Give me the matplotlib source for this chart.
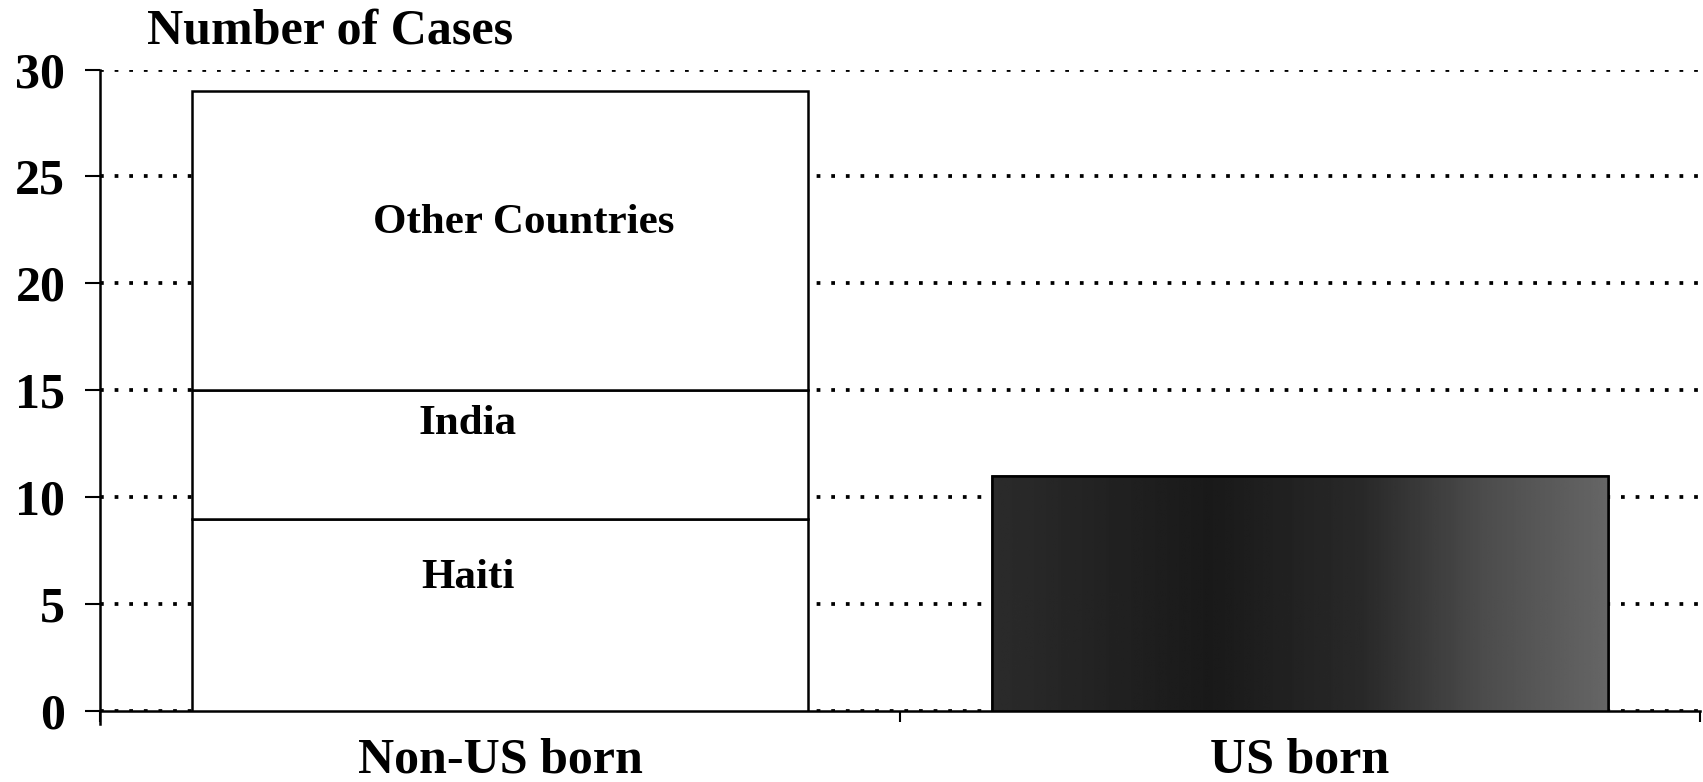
import matplotlib
matplotlib.use("Agg")
import matplotlib.pyplot as plt
import numpy as np

# Data
categories = ["Non-US born", "US born"]
segment_names = ["Haiti", "India", "Other Countries"]
non_us_segments = [9, 6, 14]
us_born_total = 11
y_ticks = [0, 5, 10, 15, 20, 25, 30]

plt.rcParams['font.family'] = ['Liberation Serif', 'DejaVu Serif']
plt.rcParams['font.weight'] = 'bold'

fig = plt.figure(figsize=(17.03, 7.82), dpi=100)
ax = fig.add_axes([100 / 1703, 1 - 711 / 782, 1600 / 1703, (711 - 69.5) / 782])

bar_w = 0.77
# stacked bar for non-US born
bottom = 0
seg_bottoms = []
for val in non_us_segments:
    ax.bar(0, val, bottom=bottom, width=bar_w, color='white', edgecolor='black',
           linewidth=1.8, zorder=3)
    seg_bottoms.append(bottom)
    bottom += val

# US born bar, dark grey shading (lighter towards the right edge like the scan)
us_bar = ax.bar(1, us_born_total, width=bar_w, color='#2a2a2a', edgecolor='black',
                linewidth=1.8, zorder=3)[0]
xs = np.linspace(0, 1, 256)
shade = np.interp(xs, [0, 0.35, 0.6, 0.8, 1], [0.17, 0.1, 0.16, 0.3, 0.4]).reshape(1, -1)
img = ax.imshow(shade, cmap='gray', vmin=0, vmax=1, aspect='auto', zorder=3.5,
                extent=[1 - bar_w / 2, 1 + bar_w / 2, 0, us_born_total])
img.set_clip_path(us_bar)
ax.bar(1, us_born_total, width=bar_w, color='none', edgecolor='black',
       linewidth=1.8, zorder=4)

# segment labels (position inside each segment as fraction of its height)
label_frac = [0.69, 0.74, 0.56]
label_dx = [-0.04, -0.04, 0.03]
for name, b, v, f, dx in zip(segment_names, seg_bottoms, non_us_segments, label_frac, label_dx):
    ax.text(dx, b + v * f, name, ha='center', va='center', fontsize=31,
            fontweight='bold', zorder=5)

ax.set_xlim(-0.5, 1.5)
ax.set_ylim(0, 30)
ax.set_yticks(y_ticks)
ax.set_yticklabels([str(t) for t in y_ticks], fontsize=36, fontweight='bold')
ax.tick_params(axis='y', direction='out', length=11, width=1.5, pad=14)

ax.set_xticks([-0.5, 0.5, 1.5])
ax.set_xticklabels([])
ax.tick_params(axis='x', which='major', direction='out', length=8, width=1.5)
ax.set_xticks([0, 1], minor=True)
ax.set_xticklabels(categories, minor=True, fontsize=36, fontweight='bold')
ax.tick_params(axis='x', which='minor', length=0, pad=19)

ax.grid(axis='y', linestyle=(0, (1, 2.9)), color='black', linewidth=2.7)
ax.set_axisbelow(True)

for s in ['top', 'right']:
    ax.spines[s].set_visible(False)
ax.spines['left'].set_linewidth(1.8)
ax.spines['bottom'].set_linewidth(1.8)
ax.spines['left'].set_bounds(-0.6, 30)

fig.text(147 / 1703, 1 - 32 / 782, "Number of Cases", ha='left', va='center',
         fontsize=36, fontweight='bold')

fig.savefig("out.png", dpi=100)
